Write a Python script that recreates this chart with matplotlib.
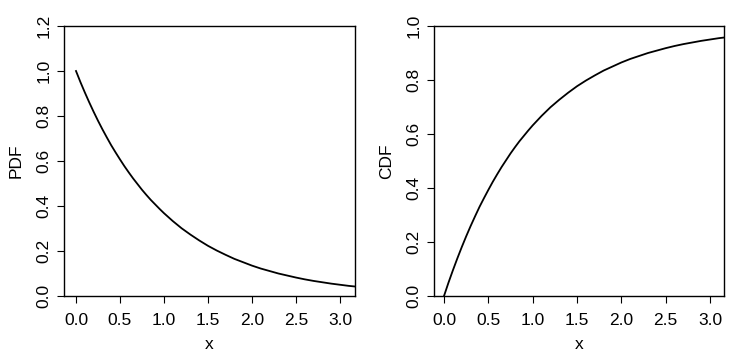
import matplotlib
matplotlib.use("Agg")
import matplotlib.pyplot as plt

plt.rcParams['font.family'] = ['Liberation Sans', 'DejaVu Sans']

x_vals = [0.00, 0.05, 0.10, 0.15, 0.20, 0.25, 0.30, 0.35, 0.40, 0.45, 0.50, 0.55,
          0.60, 0.65, 0.70, 0.75, 0.80, 0.85, 0.90, 0.95, 1.00, 1.10, 1.20, 1.30,
          1.40, 1.50, 1.60, 1.70, 1.80, 1.90, 2.00, 2.10, 2.20, 2.30, 2.40, 2.50,
          2.60, 2.70, 2.80, 2.90, 3.00, 3.10, 3.20]
pdf_vals = [1.000, 0.951, 0.905, 0.861, 0.819, 0.779, 0.741, 0.705, 0.670, 0.638,
            0.607, 0.577, 0.549, 0.522, 0.497, 0.472, 0.449, 0.427, 0.407, 0.387,
            0.368, 0.333, 0.301, 0.273, 0.247, 0.223, 0.202, 0.183, 0.165, 0.150,
            0.135, 0.122, 0.111, 0.100, 0.091, 0.082, 0.074, 0.067, 0.061, 0.055,
            0.050, 0.045, 0.041]
cdf_vals = [0.000, 0.049, 0.095, 0.139, 0.181, 0.221, 0.259, 0.295, 0.330, 0.362,
            0.393, 0.423, 0.451, 0.478, 0.503, 0.528, 0.551, 0.573, 0.593, 0.613,
            0.632, 0.667, 0.699, 0.727, 0.753, 0.777, 0.798, 0.817, 0.835, 0.850,
            0.865, 0.878, 0.889, 0.900, 0.909, 0.918, 0.926, 0.933, 0.939, 0.945,
            0.950, 0.955, 0.959]

x_ticks = [0.0, 0.5, 1.0, 1.5, 2.0, 2.5, 3.0]
x_ticklabels = ["0.0", "0.5", "1.0", "1.5", "2.0", "2.5", "3.0"]
pdf_yticks = [0.0, 0.2, 0.4, 0.6, 0.8, 1.0, 1.2]
pdf_yticklabels = ["0.0", "0.2", "0.4", "0.6", "0.8", "1.0", "1.2"]
cdf_yticks = [0.0, 0.2, 0.4, 0.6, 0.8, 1.0]
cdf_yticklabels = ["0.0", "0.2", "0.4", "0.6", "0.8", "1.0"]

W, H = 739, 358
FS = 12.5
fig = plt.figure(figsize=(W / 100, H / 100), dpi=100)

def make_ax(left_px, right_px, x0_px, unit_px, yvals, yticks, yticklabels, ylim, ylabel):
    top_px, bot_px = 26, 296
    ax = fig.add_axes([left_px / W, (H - bot_px) / H, (right_px - left_px) / W, (bot_px - top_px) / H])
    ax.plot(x_vals, yvals, color='black', lw=1.3, clip_on=True)
    ax.set_xlim((left_px - x0_px) / unit_px, (right_px - x0_px) / unit_px)
    ax.set_ylim(*ylim)
    ax.set_xticks(x_ticks)
    ax.set_xticklabels(x_ticklabels)
    ax.set_yticks(yticks)
    ax.set_yticklabels(yticklabels, rotation=90, va='center')
    ax.tick_params(axis='both', length=5, width=0.8, labelsize=FS, colors='black')
    ax.tick_params(axis='x', pad=7)
    ax.tick_params(axis='y', pad=4)
    for s in ax.spines.values():
        s.set_linewidth(1.0)
    ax.set_xlabel('x', fontsize=FS, labelpad=7)
    ax.set_ylabel(ylabel, fontsize=FS, labelpad=9)
    return ax

make_ax(64, 355, 76, 88.0, pdf_vals, pdf_yticks, pdf_yticklabels, (0, 1.2), 'PDF')
make_ax(434, 724, 444, 88.7, cdf_vals, cdf_yticks, cdf_yticklabels, (0, 1.0), 'CDF')

fig.savefig('out.png', dpi=100)
